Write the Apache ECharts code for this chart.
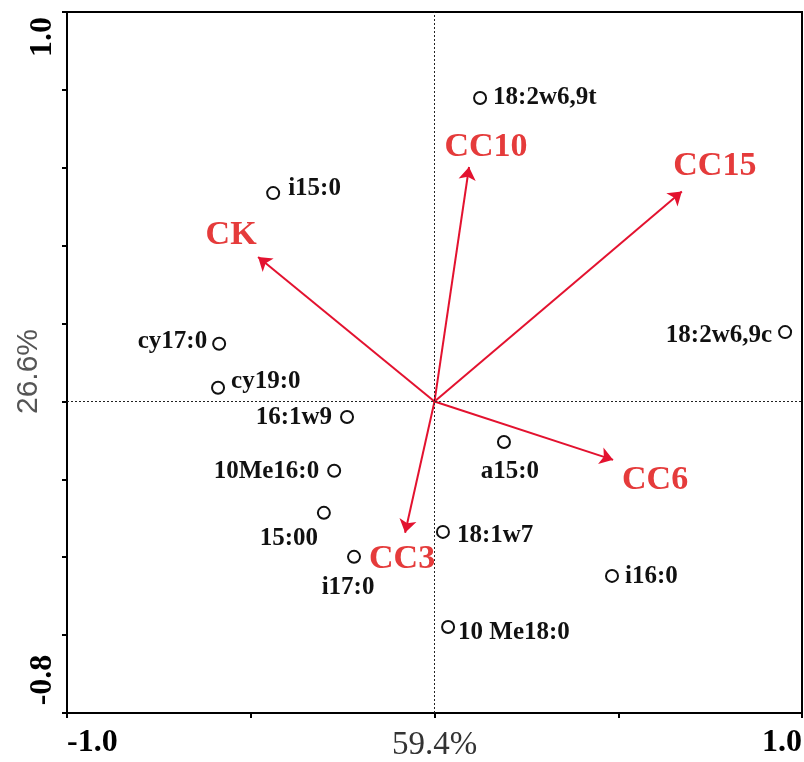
<!DOCTYPE html>
<html><head><meta charset="utf-8">
<script src="https://cdn.jsdelivr.net/npm/echarts@6/dist/echarts.min.js"></script>
<style>html,body{margin:0;padding:0;background:#fff}#c{width:804px;height:762px}</style>
</head><body><div id="c"></div>
<script>
// ---- data ----
const speciesNames = ['18:2w6,9t','i15:0','cy17:0','cy19:0','16:1w9','10Me16:0','15:00','i17:0','a15:0','18:1w7','i16:0','10 Me18:0','18:2w6,9c'];
const speciesX = [0.124,-0.439,-0.586,-0.589,-0.238,-0.273,-0.301,-0.219,0.189,0.023,0.483,0.037,0.954];
const speciesY = [0.779,0.535,0.148,0.035,-0.040,-0.178,-0.286,-0.399,-0.104,-0.335,-0.448,-0.579,0.178];
const envNames = ['CK','CC10','CC15','CC6','CC3'];
const envX = [-0.480,0.094,0.673,0.486,-0.080];
const envY = [0.371,0.602,0.539,-0.150,-0.337];
const xTickValues = [-1.0, 1.0];
const xTickLabels = ['-1.0','1.0'];
const yTickValues = [-0.8, 1.0];
const yTickLabels = ['-0.8','1.0'];
const xAxisTitle = '59.4%';
const yAxisTitle = '26.6%';

// ---- styles (label placement) ----
const speciesLabelStyle = {
  '18:2w6,9t': {position:'right', distance:6, offset:[0,-1]},
  'i15:0': {position:'right', distance:8, offset:[0,-5]},
  'cy17:0': {position:'left', distance:5, offset:[0,-2]},
  'cy19:0': {position:'right', distance:6, offset:[0,-6]},
  '16:1w9': {position:'left', distance:8, offset:[0,1]},
  '10Me16:0': {position:'left', distance:8, offset:[0,1]},
  '15:00': {position:'inside', offset:[-35,26]},
  'i17:0': {position:'inside', offset:[-6,31]},
  'a15:0': {position:'inside', offset:[6,30]},
  '18:1w7': {position:'right', distance:7, offset:[0,4]},
  'i16:0': {position:'right', distance:6, offset:[0,1]},
  '10 Me18:0': {position:'right', distance:3, offset:[0,6]},
  '18:2w6,9c': {position:'left', distance:6, offset:[0,3]}
};
const envLabelOffset = {
  'CK':[-27,-22], 'CC10':[17,-20], 'CC15':[33,-25], 'CC6':[42,20], 'CC3':[-3,27]
};
const SERIF = '"Liberation Serif","Times New Roman",serif';
const arrowColor = '#e3122f';
const envTextColor = '#e53b3b';

function tickLabel(vals, labs, v){
  for (let i=0;i<vals.length;i++) if (Math.abs(vals[i]-v)<1e-9) return labs[i];
  return '';
}

const chart = echarts.init(document.getElementById('c'), null, {renderer:'canvas'});
const option = {
  backgroundColor:'#fff',
  animation:false,
  grid:{left:67,right:2,top:12,bottom:49,show:true,borderColor:'#000',borderWidth:2,outerBoundsMode:'none',containLabel:false},
  xAxis:{
    type:'value', min:-1, max:1, interval:0.5,
    axisLine:{show:true,onZero:false,lineStyle:{color:'#000',width:2}},
    axisTick:{show:true,length:5,lineStyle:{color:'#000',width:2}},
    splitLine:{show:false},
    axisLabel:{
      show:true, margin:14, fontFamily:SERIF, fontWeight:'bold', fontSize:32, color:'#000',
      alignMinLabel:'left', alignMaxLabel:'right',
      formatter:v=>tickLabel(xTickValues,xTickLabels,v)
    },
    name:xAxisTitle, nameLocation:'middle', nameGap:16, nameMoveOverlap:false,
    nameTextStyle:{fontFamily:SERIF,fontSize:33,color:'#333',verticalAlign:'top'}
  },
  yAxis:{
    type:'value', min:-0.8, max:1.0, interval:0.2,
    axisLine:{show:true,onZero:false,lineStyle:{color:'#000',width:2}},
    axisTick:{show:true,length:5,lineStyle:{color:'#000',width:2}},
    splitLine:{show:false},
    axisLabel:{
      show:true, rotate:90, margin:8, color:'#000',
      formatter:v=>{
        const t = tickLabel(yTickValues,yTickLabels,v);
        if (!t) return '';
        return v>0 ? '{top|'+t+'}' : '{bot|'+t+'}';
      },
      rich:{
        top:{fontFamily:SERIF,fontWeight:'bold',fontSize:32,color:'#000',padding:[0,50,0,0]},
        bot:{fontFamily:SERIF,fontWeight:'bold',fontSize:32,color:'#000',padding:[0,0,0,66]}
      }
    },
    name:yAxisTitle, nameLocation:'middle', nameRotate:90, nameGap:23, nameMoveOverlap:false,
    nameTextStyle:{fontFamily:'"Liberation Sans",Arial,sans-serif',fontSize:30,color:'#555',padding:[0,18,0,0]}
  },
  series:[
    {
      type:'scatter', z:1, silent:true,
      data:[],
      markLine:{
        silent:true, symbol:'none', animation:false,
        label:{show:false},
        lineStyle:{type:[2,2],color:'#222',width:1},
        data:[{xAxis:0},{yAxis:0}]
      }
    },
    {
      type:'lines', coordinateSystem:'cartesian2d', z:3, silent:true,
      symbol:['none','arrow'], symbolSize:13,
      lineStyle:{color:arrowColor,width:2,opacity:1},
      data: envNames.map((n,i)=>({name:n, coords:[[0,0],[envX[i],envY[i]]]}))
    },
    {
      type:'scatter', z:4, silent:true, symbolSize:1,
      itemStyle:{color:'transparent',opacity:1},
      data: envNames.map((n,i)=>({name:n, value:[envX[i],envY[i]],
        label:{show:true, position:'inside', offset:envLabelOffset[n], formatter:n,
          fontFamily:SERIF, fontWeight:'bold', fontSize:34, color:envTextColor}}))
    },
    {
      type:'scatter', z:5, silent:true, symbol:'circle', symbolSize:12,
      itemStyle:{color:'#fff',borderColor:'#111',borderWidth:2,opacity:1},
      data: speciesNames.map((n,i)=>{
        const s = speciesLabelStyle[n];
        return {name:n, value:[speciesX[i],speciesY[i]],
          label:Object.assign({show:true, formatter:n, fontFamily:SERIF, fontWeight:'bold', fontSize:25, color:'#111'}, s)};
      })
    }
  ]
};
chart.setOption(option);
</script>
</body></html>
